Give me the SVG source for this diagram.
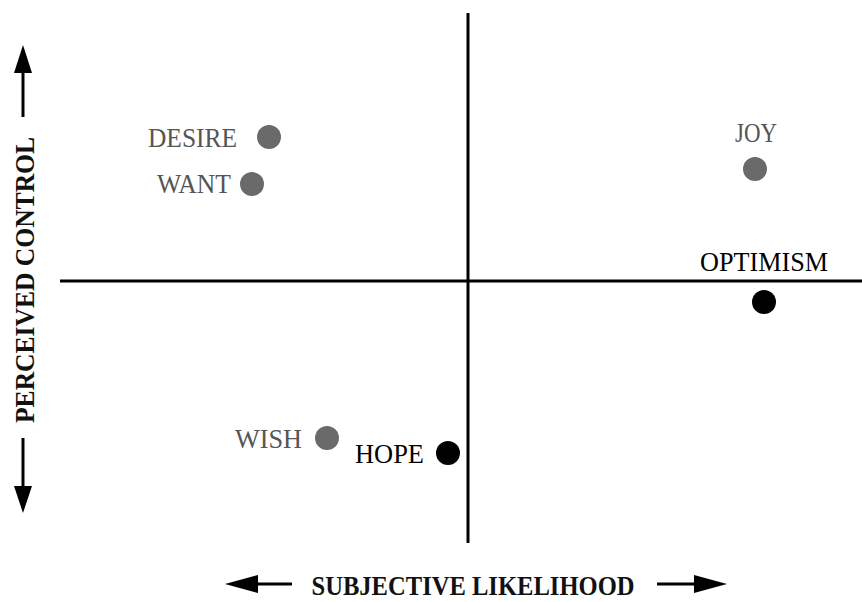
<svg xmlns="http://www.w3.org/2000/svg" width="862" height="602" viewBox="0 0 862 602">
<style>
.ax{stroke:#000;stroke-width:3;fill:none}
.lbl{font-family:"Liberation Serif","DejaVu Serif",serif;font-size:28px}
.g{fill:#555}
.k{fill:#000}
.axl{font-family:"Liberation Serif","DejaVu Serif",serif;font-size:27px;font-weight:bold;fill:#111}
.dg{fill:#6a6a6a}
.dk{fill:#000}
</style>
<rect width="862" height="602" fill="#fff"/>
<g id="connectors">
<line class="ax" x1="60" y1="281" x2="862" y2="281"/>
<line class="ax" x1="468" y1="13" x2="468" y2="543"/>
<line class="ax" x1="23" y1="70" x2="23" y2="117"/>
<polygon points="23,45 14,73 32,73" fill="#000"/>
<line class="ax" x1="23" y1="438" x2="23" y2="490"/>
<polygon points="23,513 14,486 32,486" fill="#000"/>
<line class="ax" x1="255" y1="584" x2="292" y2="584"/>
<polygon points="225,584 258,575 258,593" fill="#000"/>
<line class="ax" x1="657" y1="584" x2="700" y2="584"/>
<polygon points="727,584 694,575 694,593" fill="#000"/>
</g>
<g id="axis-labels">
<text class="axl" x="473" y="595" text-anchor="middle" textLength="323" lengthAdjust="spacingAndGlyphs">SUBJECTIVE LIKELIHOOD</text>
<text class="axl" transform="translate(34,280) rotate(-90)" x="0" y="0" text-anchor="middle" textLength="286" lengthAdjust="spacingAndGlyphs">PERCEIVED CONTROL</text>
</g>
<g id="desire"><circle class="dg" cx="269" cy="137" r="12"/><text class="lbl g" x="148" y="147" textLength="89" lengthAdjust="spacingAndGlyphs">DESIRE</text></g>
<g id="want"><circle class="dg" cx="252" cy="184" r="12"/><text class="lbl g" x="157" y="193" textLength="74" lengthAdjust="spacingAndGlyphs">WANT</text></g>
<g id="joy"><circle class="dg" cx="755" cy="169" r="12"/><text class="lbl g" x="735" y="142" textLength="42" lengthAdjust="spacingAndGlyphs">JOY</text></g>
<g id="optimism"><circle class="dk" cx="764" cy="302" r="12"/><text class="lbl k" x="700" y="271" textLength="128" lengthAdjust="spacingAndGlyphs">OPTIMISM</text></g>
<g id="wish"><circle class="dg" cx="327" cy="438" r="12"/><text class="lbl g" x="235" y="448" textLength="67" lengthAdjust="spacingAndGlyphs">WISH</text></g>
<g id="hope"><circle class="dk" cx="448" cy="453" r="12"/><text class="lbl k" x="355" y="463" textLength="69" lengthAdjust="spacingAndGlyphs">HOPE</text></g>
</svg>
